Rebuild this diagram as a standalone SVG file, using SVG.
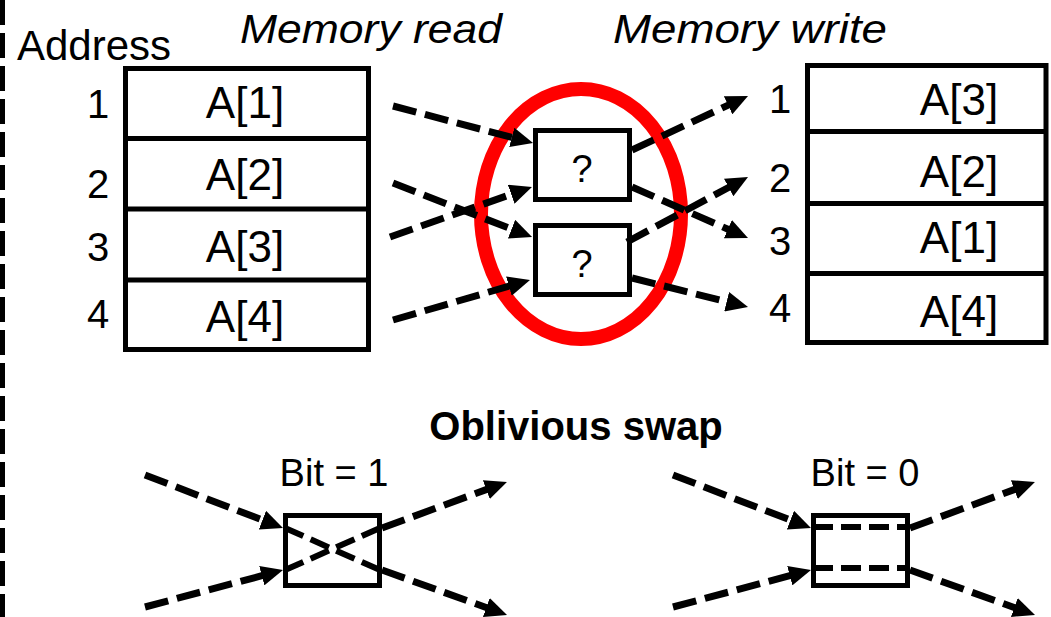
<svg xmlns="http://www.w3.org/2000/svg" width="1051" height="617" viewBox="0 0 1051 617">
<defs>
<style>
text{font-family:"Liberation Sans",Arial,sans-serif;fill:#000}
.lbl{font-size:44px;text-anchor:middle}
.num{font-size:40px;text-anchor:middle}
.ttl{font-size:41px;font-style:italic}
.box{fill:#fff;stroke:#000;stroke-width:5}
.cell{fill:none;stroke:#000;stroke-width:5}
.arr{fill:none;stroke:#000;stroke-width:7;stroke-dasharray:24 9;marker-end:url(#ah)}
.in{fill:none;stroke:#000;stroke-width:6;stroke-dasharray:20 8}
</style>
<marker id="ah" viewBox="0 0 22 20" markerWidth="22" markerHeight="20" markerUnits="userSpaceOnUse" refX="2" refY="10" orient="auto">
<path d="M0,0 L22,10 L0,20 Z" fill="#000"/>
</marker>
</defs>
<rect width="1051" height="617" fill="#fff"/>
<line x1="2.5" y1="0" x2="2.5" y2="617" stroke="#000" stroke-width="5" stroke-dasharray="25 8"/>

<g id="titles">
<text x="17" y="60" style="font-size:42px">Address</text>
<text class="ttl" x="240" y="43" textLength="262" lengthAdjust="spacingAndGlyphs">Memory read</text>
<text class="ttl" x="613" y="43" textLength="274" lengthAdjust="spacingAndGlyphs">Memory write</text>
</g>

<g id="read-table">
<rect class="cell" x="125.5" y="68.5" width="243" height="281"/>
<line class="cell" x1="125.5" y1="138.5" x2="368.5" y2="138.5"/>
<line class="cell" x1="125.5" y1="209" x2="368.5" y2="209"/>
<line class="cell" x1="125.5" y1="280" x2="368.5" y2="280"/>
<text class="lbl" x="245" y="118">A[1]</text>
<text class="lbl" x="245" y="190">A[2]</text>
<text class="lbl" x="245" y="262">A[3]</text>
<text class="lbl" x="245" y="332">A[4]</text>
<text class="num" x="98" y="118">1</text>
<text class="num" x="98" y="198">2</text>
<text class="num" x="98" y="261">3</text>
<text class="num" x="98" y="328">4</text>
</g>

<g id="write-table">
<rect class="cell" x="807.5" y="65.5" width="238.5" height="277"/>
<line class="cell" x1="807.5" y1="131.5" x2="1046" y2="131.5"/>
<line class="cell" x1="807.5" y1="203.5" x2="1046" y2="203.5"/>
<line class="cell" x1="807.5" y1="273.5" x2="1046" y2="273.5"/>
<text class="lbl" x="959" y="115">A[3]</text>
<text class="lbl" x="959" y="187">A[2]</text>
<text class="lbl" x="959" y="253">A[1]</text>
<text class="lbl" x="959" y="327">A[4]</text>
<text class="num" x="780" y="113">1</text>
<text class="num" x="780" y="192">2</text>
<text class="num" x="780" y="255">3</text>
<text class="num" x="780" y="322">4</text>
</g>

<g id="highlight">
<ellipse cx="581" cy="214" rx="100" ry="125" fill="none" stroke="#ff0000" stroke-width="14"/>
</g>

<g id="swap-top">
<rect class="box" x="535.5" y="130.5" width="94" height="69"/>
<text x="582" y="182" style="font-size:38px;text-anchor:middle">?</text>
</g>
<g id="swap-bottom">
<rect class="box" x="535.5" y="225.5" width="94" height="69"/>
<text x="582" y="277" style="font-size:38px;text-anchor:middle">?</text>
</g>

<g id="connectors">
<line class="arr" x1="393" y1="106" x2="513.7" y2="137.9"/>
<line class="arr" x1="393" y1="183" x2="513.4" y2="229.8"/>
<line class="arr" x1="390" y1="237" x2="513.1" y2="193.6"/>
<line class="arr" x1="393" y1="320" x2="510.8" y2="285.6"/>
<line class="arr" x1="632" y1="150" x2="729.9" y2="104.4"/>
<line class="arr" x1="632" y1="187" x2="729.7" y2="230"/>
<line class="arr" x1="627" y1="242" x2="730.4" y2="186.5"/>
<line class="arr" x1="632" y1="278" x2="728.6" y2="302.2"/>
</g>

<g id="legend">
<text x="576" y="440" style="font-size:40px;font-weight:bold;text-anchor:middle">Oblivious swap</text>
</g>

<g id="bit1">
<text x="334" y="486" style="font-size:38px;text-anchor:middle">Bit = 1</text>
<rect class="box" x="285.5" y="515.5" width="94" height="70"/>
<line class="in" x1="285" y1="528" x2="380" y2="570"/>
<line class="in" x1="285" y1="570" x2="380" y2="528"/>
</g>
<g id="bit1-connectors">
<line class="arr" x1="145" y1="475" x2="264.3" y2="520.8"/>
<line class="arr" x1="145" y1="607" x2="263.7" y2="575.2"/>
<line class="arr" x1="382" y1="528" x2="488.2" y2="488.9"/>
<line class="arr" x1="382" y1="570" x2="488.2" y2="608.2"/>
</g>

<g id="bit0">
<text x="865" y="486" style="font-size:38px;text-anchor:middle">Bit = 0</text>
<rect class="box" x="813.5" y="515.5" width="94" height="70"/>
<line class="in" x1="813" y1="527" x2="906" y2="527"/>
<line class="in" x1="813" y1="568" x2="906" y2="568"/>
</g>
<g id="bit0-connectors">
<line class="arr" x1="673" y1="475" x2="792.3" y2="520.8"/>
<line class="arr" x1="673" y1="607" x2="791.7" y2="575.2"/>
<line class="arr" x1="910" y1="528" x2="1016.2" y2="488.9"/>
<line class="arr" x1="910" y1="570" x2="1016.2" y2="608.2"/>
</g>
</svg>
